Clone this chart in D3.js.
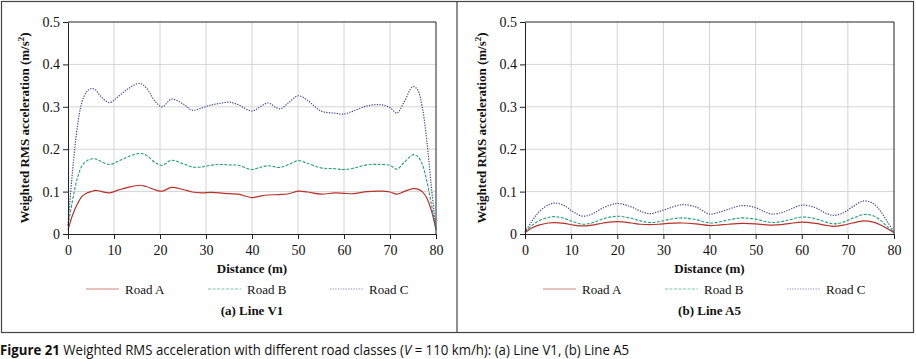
<!DOCTYPE html>
<html>
<head>
<meta charset="utf-8">
<script src="https://cdn.jsdelivr.net/npm/d3@7"></script>
<style>
  body { margin: 0; background: #fff; }
  svg text { font-family: "Liberation Serif", "DejaVu Serif", serif; fill: #111; }
  .caption { font-family: "Open Sans", "Liberation Sans", sans-serif; font-size: 14px; }
</style>
</head>
<body>
<svg id="chart" width="916" height="359"></svg>
<script>
const v1Dist = [0, 1, 2, 3, 4, 5, 6, 7, 9, 11, 13, 15.5, 17, 19, 20.5, 22.5, 25, 27, 29, 31, 33, 35, 37, 40, 42, 43.5, 46, 48, 50, 52, 55, 58, 60, 62, 65, 68, 70, 71.5, 73, 75, 76, 77, 78, 79, 80];
const v1RoadA = [0.01, 0.045, 0.07, 0.088, 0.096, 0.1, 0.103, 0.101, 0.097, 0.104, 0.11, 0.115, 0.112, 0.104, 0.101, 0.11, 0.105, 0.099, 0.097, 0.098, 0.097, 0.095, 0.094, 0.086, 0.09, 0.092, 0.093, 0.095, 0.101, 0.099, 0.094, 0.097, 0.096, 0.095, 0.1, 0.101, 0.099, 0.094, 0.1, 0.107, 0.106, 0.1, 0.085, 0.055, 0.01];
const v1RoadB = [0.02, 0.08, 0.13, 0.16, 0.172, 0.177, 0.177, 0.172, 0.164, 0.172, 0.182, 0.19, 0.186, 0.168, 0.162, 0.174, 0.166, 0.158, 0.158, 0.162, 0.164, 0.163, 0.162, 0.152, 0.158, 0.161, 0.157, 0.164, 0.173, 0.167, 0.156, 0.154, 0.152, 0.155, 0.163, 0.164, 0.162, 0.153, 0.168, 0.187, 0.183, 0.165, 0.125, 0.07, 0.01];
const v1RoadC = [0.02, 0.15, 0.25, 0.31, 0.335, 0.343, 0.34, 0.326, 0.31, 0.325, 0.342, 0.355, 0.345, 0.312, 0.3, 0.318, 0.307, 0.292, 0.297, 0.304, 0.308, 0.311, 0.305, 0.29, 0.302, 0.309, 0.295, 0.31, 0.326, 0.316, 0.29, 0.285, 0.283, 0.29, 0.302, 0.305, 0.298, 0.285, 0.31, 0.348, 0.34, 0.3, 0.22, 0.11, 0.01];

const a5Dist = [0, 1.5, 3, 5, 6.5, 8.5, 10.5, 12.5, 14.5, 17, 20, 23, 25, 27, 29, 31, 34, 37, 40, 42, 44, 47, 50, 52, 53.5, 55.5, 57.5, 60, 63, 65, 67, 69, 71, 73.5, 75.5, 77, 78.5, 80];
const a5RoadA = [0.003, 0.014, 0.021, 0.026, 0.027, 0.025, 0.021, 0.019, 0.021, 0.026, 0.029, 0.026, 0.023, 0.022, 0.023, 0.025, 0.026, 0.024, 0.02, 0.021, 0.023, 0.025, 0.024, 0.022, 0.021, 0.022, 0.025, 0.028, 0.025, 0.021, 0.018, 0.021, 0.026, 0.031, 0.028, 0.022, 0.013, 0.003];
const a5RoadB = [0.005, 0.02, 0.031, 0.039, 0.041, 0.037, 0.029, 0.023, 0.026, 0.036, 0.042, 0.037, 0.031, 0.027, 0.029, 0.034, 0.038, 0.034, 0.026, 0.028, 0.033, 0.038, 0.035, 0.03, 0.027, 0.029, 0.034, 0.04, 0.036, 0.029, 0.024, 0.028, 0.037, 0.046, 0.043, 0.033, 0.018, 0.004];
const a5RoadC = [0.005, 0.03, 0.052, 0.068, 0.073, 0.067, 0.052, 0.042, 0.047, 0.062, 0.072, 0.064, 0.054, 0.048, 0.053, 0.06, 0.069, 0.064, 0.047, 0.051, 0.058, 0.067, 0.062, 0.052, 0.047, 0.05, 0.058, 0.068, 0.062, 0.05, 0.044, 0.05, 0.064, 0.078, 0.072, 0.055, 0.03, 0.005];

const roadNames = ["Road A", "Road B", "Road C"];
const yTicks = [0, 0.1, 0.2, 0.3, 0.4, 0.5];
const xTicks = [0, 10, 20, 30, 40, 50, 60, 70, 80];

const roadStyle = {
  "Road A": { color: "#b8322a", dash: null, width: 1.2 },
  "Road B": { color: "#1f9f78", dash: "3,1.5", width: 1.1 },
  "Road C": { color: "#484894", dash: "1.3,1.3", width: 1.2 }
};

const svg = d3.select("#chart");

// outer frame and divider
svg.append("rect").attr("x", 1.5).attr("y", 1.5).attr("width", 912).attr("height", 331)
  .attr("fill", "none").attr("stroke", "#444").attr("stroke-width", 1.2);
svg.append("line").attr("x1", 457).attr("x2", 457).attr("y1", 1.5).attr("y2", 332.5)
  .attr("stroke", "#444").attr("stroke-width", 1.2);

function drawPanel(left, right, dist, series, label, legendX) {
  const x = d3.scaleLinear().domain([0, 80]).range([left, right]);
  const y = d3.scaleLinear().domain([0, 0.5]).range([234, 22]);
  const g = svg.append("g");

  g.append("g").selectAll("line").data(xTicks.slice(1, -1)).join("line")
    .attr("x1", d => x(d)).attr("x2", d => x(d)).attr("y1", y(0)).attr("y2", y(0.5))
    .attr("stroke", "#d4d4d4").attr("stroke-width", 1);
  g.append("g").selectAll("line").data(yTicks.slice(1, -1)).join("line")
    .attr("x1", x(0)).attr("x2", x(80)).attr("y1", d => y(d)).attr("y2", d => y(d))
    .attr("stroke", "#d4d4d4").attr("stroke-width", 1);

  // top and right frame
  g.append("path")
    .attr("d", `M${x(0)},${y(0.5)}H${x(80)}V${y(0)}`)
    .attr("fill", "none").attr("stroke", "#222").attr("stroke-width", 1);

  const line = d3.line().x((d, i) => x(dist[i])).y(d => y(d)).curve(d3.curveCatmullRom.alpha(0.5));
  roadNames.forEach((name, k) => {
    const s = roadStyle[name];
    g.append("path").datum(series[k]).attr("d", line)
      .attr("fill", "none").attr("stroke", s.color).attr("stroke-width", s.width)
      .attr("stroke-dasharray", s.dash);
  });

  const xAxis = g.append("g").attr("transform", `translate(0,${y(0)})`)
    .call(d3.axisBottom(x).tickValues(xTicks).tickSize(5).tickSizeOuter(0).tickFormat(d3.format("d")));
  xAxis.selectAll("text").attr("dy", "0.95em");
  const yAxis = g.append("g").attr("transform", `translate(${x(0)},0)`)
    .call(d3.axisLeft(y).tickValues(yTicks).tickSize(5).tickSizeOuter(0)
      .tickFormat(d => d === 0 ? "0" : d3.format(".1f")(d)));
  [xAxis, yAxis].forEach(a => {
    a.attr("font-family", null).attr("font-size", 14);
    a.selectAll("text").attr("fill", "#111");
    a.select(".domain").attr("stroke", "#222");
    a.selectAll(".tick line").attr("stroke", "#222");
  });

  g.append("text").attr("x", (x(0) + x(80)) / 2).attr("y", 273).attr("text-anchor", "middle")
    .attr("font-size", 13).attr("font-weight", "bold").text("Distance (m)");

  const yt = g.append("text").attr("transform", `translate(${left - 39},${(y(0) + y(0.5)) / 2}) rotate(-90)`)
    .attr("text-anchor", "middle").attr("font-size", 13).attr("font-weight", "bold");
  yt.append("tspan").text("Weighted RMS acceleration (m/s");
  yt.append("tspan").attr("font-size", 9).attr("dy", -5).text("2");
  yt.append("tspan").attr("dy", 5).text(")");

  roadNames.forEach((name, k) => {
    const s = roadStyle[name];
    const lx = legendX + k * 122;
    g.append("line").attr("x1", lx).attr("x2", lx + 33).attr("y1", 289).attr("y2", 289)
      .attr("stroke", s.color).attr("stroke-width", s.width).attr("stroke-dasharray", s.dash)
      .attr("opacity", 0.6);
    g.append("text").attr("x", lx + 39).attr("y", 293.5).attr("font-size", 13).text(name);
  });

  g.append("text").attr("x", (x(0) + x(80)) / 2).attr("y", 315).attr("text-anchor", "middle")
    .attr("font-size", 13).attr("font-weight", "bold").text(label);
}

drawPanel(68, 436, v1Dist, [v1RoadA, v1RoadB, v1RoadC], "(a) Line V1", 86);
drawPanel(525, 894, a5Dist, [a5RoadA, a5RoadB, a5RoadC], "(b) Line A5", 543);

// caption set in a condensed face in the source; squeeze horizontally
const cap = svg.append("text").attr("class", "caption").attr("transform", "translate(0,355) scale(0.945,1)");
cap.append("tspan").attr("font-weight", "bold").text("Figure 21");
cap.append("tspan").text(" Weighted RMS acceleration with different road classes (");
cap.append("tspan").attr("font-style", "italic").text("V");
cap.append("tspan").text(" = 110 km/h): (a) Line V1, (b) Line A5");
</script>
</body>
</html>
